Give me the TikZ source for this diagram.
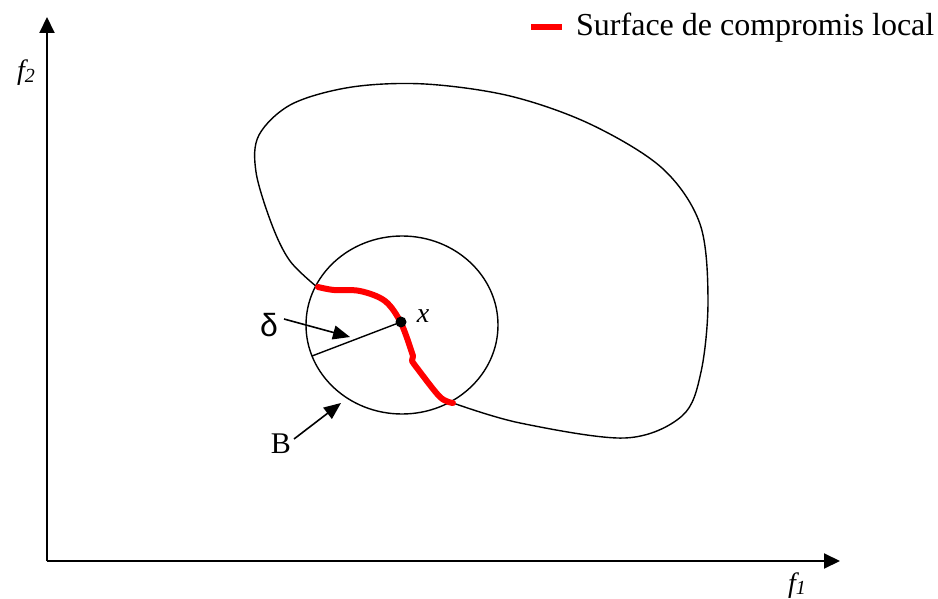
\documentclass[tikz,border=0pt]{standalone}
\usepackage{fontspec}
\setmainfont{Liberation Serif}
\newfontfamily\sansf{Liberation Sans}
\usetikzlibrary{arrows.meta}
\begin{document}
\begin{tikzpicture}[x=1pt,y=-1pt,
  axis/.style={line width=2pt,-{Triangle[length=16pt,width=15pt]}},
  pointer/.style={line width=1.6pt,-{Triangle[length=17pt,width=14pt]}},
  thin/.style={line width=1.4pt},
  redc/.style={line width=6pt,red,line cap=round,line join=round},
  lbl/.style={inner sep=0pt,anchor=base}]
\useasboundingbox (0,0) rectangle (938,599);
% axes
\coordinate (O) at (47,561);
\coordinate (Ytip) at (47,17);
\coordinate (Xtip) at (840,561);
\draw[axis] (O) -- (Ytip);
\draw[axis] (O) -- (Xtip);
\node[lbl] (f2) at (26,80) {\fontsize{28}{28}\selectfont\itshape f\raisebox{-0.22ex}{\fontsize{20}{20}\selectfont 2}};
\node[lbl] (f1) at (797,592) {\fontsize{28}{28}\selectfont\itshape f\raisebox{-0.22ex}{\fontsize{20}{20}\selectfont 1}};
% region blob
\draw[thin] plot[smooth,tension=0.55] coordinates {(317,287) (290,261) (272,225) (256,172) (259,135) (292,104) (352,87) (425,84) (510,96) (590,124) (662,168) (700,224) (708,300) (701,372) (682,416) (625,438) (520,423) (453,403)};
% ball B
\draw[thin] (402,325) ellipse [x radius=96,y radius=89];
% red local tradeoff surface
\draw[redc] plot[smooth,tension=0.55] coordinates {(318,287) (334,290) (360,291) (385,301) (401,323) (413,356)} -- (412,361) -- plot[smooth,tension=0.55] coordinates {(412,361) (417,368) (440,397) (453,403)};
% point x and radius
\coordinate (xp) at (401,322);
\coordinate (rend) at (312,356);
\fill (xp) circle (5.5);
\draw[thin] (xp) -- (rend);
\node[lbl] (xl) at (423,322) {\fontsize{28}{28}\selectfont\itshape x};
% delta
\node[lbl] (dl) at (269,336) {\sansf\fontsize{32}{32}\selectfont δ};
\coordinate (ds) at (284,319);
\coordinate (dt) at (350,337);
\draw[pointer] (ds) -- (dt);
% B
\node[lbl] (bl) at (281,453) {\fontsize{30}{30}\selectfont B};
\coordinate (bs) at (294,439);
\coordinate (bt) at (341,403);
\draw[pointer] (bs) -- (bt);
% legend
\coordinate (la) at (531,27);
\coordinate (lb) at (562,27);
\draw[red,line width=6pt] (la) -- (lb);
\node[inner sep=0pt,anchor=base west] (lt) at (576,36) {\fontsize{32}{32}\selectfont Surface de compromis local};
\end{tikzpicture}
\end{document}
